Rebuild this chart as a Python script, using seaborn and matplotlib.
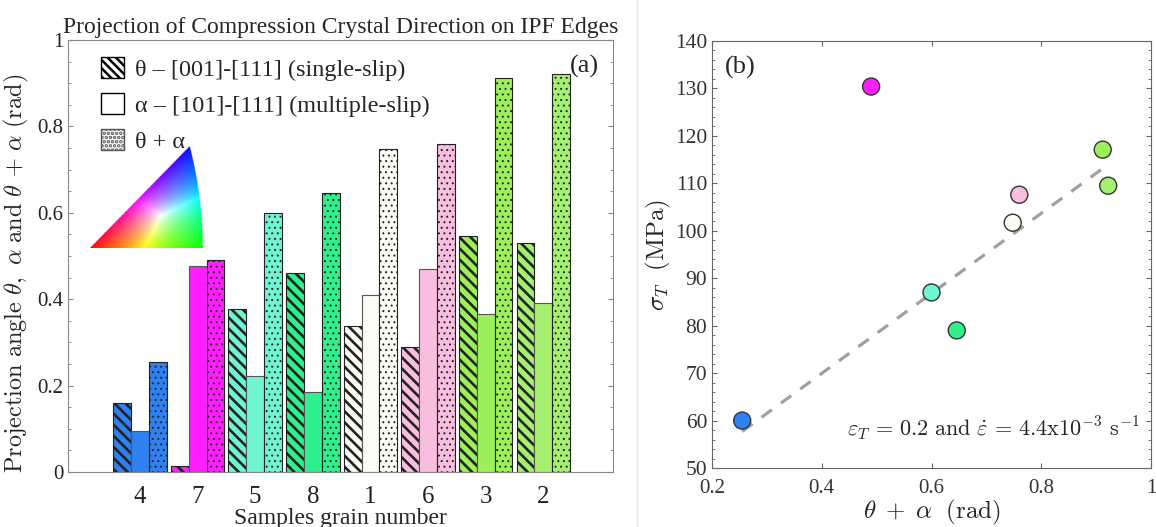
import numpy as np
import pandas as pd
import matplotlib
matplotlib.use("Agg")
import matplotlib.pyplot as plt
from matplotlib.patches import Patch
from matplotlib.lines import Line2D
from matplotlib.ticker import MultipleLocator, FuncFormatter
import seaborn as sns

sns.set_style("ticks")
plt.rcParams["font.family"] = "serif"
plt.rcParams["font.serif"] = ["Liberation Serif", "DejaVu Serif"]
plt.rcParams["mathtext.fontset"] = "cm"
plt.rcParams["hatch.linewidth"] = 1.8

# grains in the order they are plotted
grains = ["4", "7", "5", "8", "1", "6", "3", "2"]
theta = [0.160, 0.015, 0.378, 0.460, 0.338, 0.290, 0.547, 0.531]
alpha = [0.095, 0.478, 0.222, 0.186, 0.410, 0.470, 0.366, 0.392]
theta_alpha = [0.255, 0.490, 0.600, 0.646, 0.748, 0.760, 0.912, 0.922]
grain_colors = ["#2f80f0", "#ff1eff", "#6ff5d2", "#2ef08c",
                "#fcfcf2", "#f9bde0", "#9cf05a", "#a6f070"]

# critical stress per grain (MPa)
sigma_T = [60.0, 130.4, 87.0, 79.0, 101.7, 107.6, 117.1, 109.5]
outlier_grain = "7"

kinds = ["theta", "alpha", "sum"]
hatches = ["\\\\\\", "", "..."]
hatch_lw = [1.9, 1.0, 0.7]

bars = pd.DataFrame({
    "grain": grains * 3,
    "kind": np.repeat(kinds, len(grains)),
    "value": theta + alpha + theta_alpha,
})
pts = pd.DataFrame({"grain": grains, "x": theta_alpha, "y": sigma_T})
fit = pts[pts["grain"] != outlier_grain]

W, H = 1156, 527
fig = plt.figure(figsize=(W / 100, H / 100), dpi=100)

# ---- (a) bar chart
ax = fig.add_axes([68 / W, 1 - 472 / H, 545 / W, 432 / H])
sns.barplot(data=bars, x="grain", y="value", hue="kind", order=grains,
            hue_order=kinds, width=0.93, gap=0, errorbar=None,
            legend=False, ax=ax)
for k, cont in enumerate(ax.containers):
    for j, patch in enumerate(cont):
        patch.set_facecolor(grain_colors[j])
        patch.set_edgecolor("#222222" if k != 1 else "#555555")
        patch.set_linewidth(0.8)
        patch.set_hatch(hatches[k])
        if hasattr(patch, "set_hatch_linewidth"):
            patch.set_hatch_linewidth(hatch_lw[k])

ax.set_xlim(-1.25, 8.21)
ax.set_ylim(0, 1)
ax.yaxis.set_major_locator(MultipleLocator(0.2))
ax.yaxis.set_minor_locator(MultipleLocator(0.05))
ax.yaxis.set_major_formatter(FuncFormatter(lambda v, p: f"{v:g}"))
ax.tick_params(axis="y", which="both", direction="in", right=True,
               colors="#888888", labelcolor="#222222", labelsize=15)
ax.tick_params(axis="x", length=0, pad=10, labelsize=18, labelcolor="#222222")
for s in ax.spines.values():
    s.set_visible(True)
    s.set_color("#888888")
ax.set_xlabel("Samples grain number", fontsize=17, labelpad=0)
ax.set_ylabel(r"$\mathrm{Projection\ angle}\ \theta,\ \alpha\ \mathrm{and}\ \theta\,+\,\alpha\ \mathrm{(rad)}$",
              fontsize=17.5)
ax.yaxis.set_label_coords(-0.068, 0.46)
ax.set_title("Projection of Compression Crystal Direction on IPF Edges",
             fontsize=17, pad=5)
ax.text(0.975, 0.965, "(a)", transform=ax.transAxes, ha="right", va="top",
        fontsize=19)

handles = [
    Patch(facecolor="white", edgecolor="black", hatch="\\\\\\\\",
          label="θ – [001]-[111] (single-slip)"),
    Patch(facecolor="white", edgecolor="black",
          label="α – [101]-[111] (multiple-slip)"),
    Patch(facecolor="white", edgecolor="#555555", hatch="....",
          label="θ + α"),
]
for h, lw in zip(handles, [1.8, 1.0, 0.4]):
    if hasattr(h, "set_hatch_linewidth"):
        h.set_hatch_linewidth(lw)
ax.legend(handles=handles, loc="upper left", frameon=False, fontsize=17.5,
          handlelength=0.95, handleheight=0.95, handletextpad=0.45,
          labelspacing=0.5, borderaxespad=0.3, bbox_to_anchor=(0.03, 1.0))

# IPF colour key
ins = fig.add_axes([90 / W, 1 - 247.5 / H, 112.7 / W, 101.5 / H])
X, Y = np.meshgrid(np.linspace(0, 0.4142, 300), np.linspace(0, 0.366, 300))
den = 1 + X ** 2 + Y ** 2
vx, vy, vz = 2 * X / den, 2 * Y / den, (1 - X ** 2 - Y ** 2) / den
rgb = np.stack([vz - vx, (vx - vy) * np.sqrt(2), vy * np.sqrt(3)], axis=-1)
rgb = np.clip(rgb, 0, None)
rgb = rgb / rgb.max(axis=-1, keepdims=True)
rgb = rgb ** 0.75
inside = (vy <= vx) & (vx <= vz)
img = np.ones(X.shape + (4,))
img[..., :3] = rgb
img[..., 3] = inside.astype(float)
ins.imshow(img, origin="lower", extent=[0, 0.4142, 0, 0.366], aspect="auto",
           interpolation="bilinear")
ins.axis("off")

# ---- (b) scatter
bx = fig.add_axes([712 / W, 1 - 468 / H, 439 / W, 427 / H])
sns.regplot(data=fit, x="x", y="y", scatter=False, ci=None, ax=bx,
            line_kws=dict(color="#a0a0a0", lw=2.3, ls=(0, (4, 3.5))))
sns.scatterplot(data=pts, x="x", y="y", hue="grain", hue_order=grains,
                palette=dict(zip(grains, grain_colors)), s=150,
                edgecolor="#333333", linewidth=1.0, legend=False, zorder=3,
                ax=bx)
bx.set_xlim(0.2, 1)
bx.set_ylim(50, 140)
bx.xaxis.set_major_locator(MultipleLocator(0.2))
bx.yaxis.set_major_locator(MultipleLocator(10))
bx.yaxis.set_minor_locator(MultipleLocator(2))
bx.xaxis.set_major_formatter(FuncFormatter(lambda v, p: f"{v:g}"))
bx.tick_params(which="both", direction="in", top=True, right=True,
               colors="#666666", labelcolor="#333333", labelsize=15.5)
bx.tick_params(axis="x", pad=8, labelsize=15)
for s in bx.spines.values():
    s.set_visible(True)
    s.set_color("#666666")
bx.set_xlabel(r"$\theta\;+\;\alpha\ \ \mathrm{(rad)}$", fontsize=18, labelpad=0)
bx.set_ylabel(r"$\sigma_T\ \ \mathrm{(MPa)}$", fontsize=18, labelpad=1)
bx.text(0.03, 0.965, "(b)", transform=bx.transAxes, ha="left", va="top",
        fontsize=19)
bx.text(0.975, 0.06,
        r"$\varepsilon_T\,=\,0.2\ \mathrm{and}\ \dot{\varepsilon}\,=\,4.4\mathrm{x}10^{-3}\ \mathrm{s}^{-1}$",
        transform=bx.transAxes, ha="right", va="bottom", fontsize=16)

fig.add_artist(Line2D([637 / W, 637 / W], [0, 1], color="#e6e6e6", lw=1))

fig.savefig("out.png", dpi=100)
